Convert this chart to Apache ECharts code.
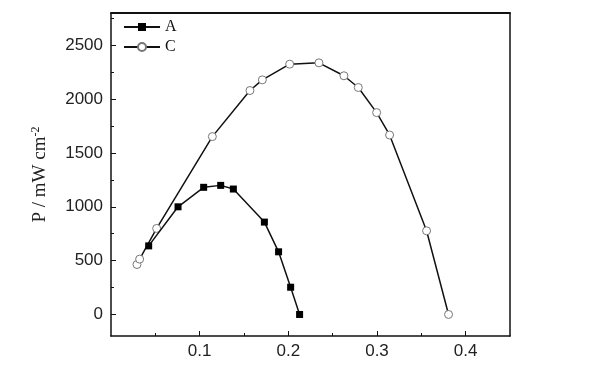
<!DOCTYPE html>
<html><head><meta charset="utf-8">
<script src="https://cdn.jsdelivr.net/npm/echarts@6/dist/echarts.min.js"></script>
<style>html,body{margin:0;padding:0;background:#fff}#c{width:600px;height:372px}</style>
</head><body><div id="c"></div>
<script>
const xA = [0.0425, 0.0756, 0.1045, 0.1237, 0.138, 0.173, 0.189, 0.2026, 0.2127];
const yA = [637, 1000, 1181, 1199, 1165, 858, 582, 253, 0];
const xC = [0.0293, 0.0323, 0.0515, 0.1143, 0.1567, 0.1707, 0.2015, 0.2345, 0.2627, 0.2789, 0.2996, 0.3142, 0.3559, 0.3807];
const yC = [464, 514, 799, 1652, 2080, 2179, 2325, 2337, 2217, 2108, 1875, 1667, 777, 0];
const yMajor = [0, 500, 1000, 1500, 2000, 2500];
const yMinor = [250, 750, 1250, 1750, 2250, 2750];
const xMajor = [0.1, 0.2, 0.3, 0.4];
const xMinor = [0.05, 0.15, 0.25, 0.35];

const chart = echarts.init(document.getElementById('c'));
const lbl = {fontFamily: 'Liberation Sans, Arial, sans-serif', fontSize: 17, color: '#222', formatter: v => String(v)};
chart.setOption({
  animation: false,
  grid: {left: 111, right: 90, top: 13, bottom: 36, show: false},
  legend: {
    orient: 'vertical', left: 118, top: 17, itemGap: 4, itemWidth: 36, itemHeight: 10, padding: [2, 5],
    textStyle: {fontFamily: 'Liberation Serif, Times New Roman, serif', fontSize: 16, color: '#111'},
    data: ['A', 'C']
  },
  xAxis: [
    {type: 'value', min: 0, max: 0.45, position: 'bottom',
     axisLine: {onZero: false, lineStyle: {color: '#111', width: 1.5}},
     axisTick: {inside: true, length: 5, customValues: xMajor, lineStyle: {color: '#111'}},
     axisLabel: {customValues: xMajor, margin: 7, ...lbl},
     splitLine: {show: false}},
    {type: 'value', min: 0, max: 0.45, position: 'bottom',
     axisLine: {show: false, onZero: false},
     axisTick: {inside: true, length: 3, customValues: xMinor, lineStyle: {color: '#111'}},
     axisLabel: {show: false}, splitLine: {show: false}},
    {type: 'value', min: 0, max: 0.45, position: 'top',
     axisLine: {onZero: false, lineStyle: {color: '#111', width: 1.8}},
     axisTick: {show: false}, axisLabel: {show: false}, splitLine: {show: false}}
  ],
  yAxis: [
    {type: 'value', min: -200, max: 2800, position: 'left',
     axisLine: {show: true, onZero: false, lineStyle: {color: '#111', width: 1.5}},
     axisTick: {show: true, inside: true, length: 5, customValues: yMajor, lineStyle: {color: '#111'}},
     axisLabel: {customValues: yMajor, margin: 8, ...lbl},
     splitLine: {show: false},
     name: '{a|P / mW cm}{s|-2}', nameLocation: 'middle', nameGap: 60, nameRotate: 90,
     nameTextStyle: {rich: {
       a: {fontFamily: 'Liberation Serif, Times New Roman, serif', fontSize: 19, color: '#222'},
       s: {fontFamily: 'Liberation Serif, Times New Roman, serif', fontSize: 12, color: '#222', verticalAlign: 'top', padding: [0, 0, 9, 0]}
     }}},
    {type: 'value', min: -200, max: 2800, position: 'left',
     axisLine: {show: false, onZero: false},
     axisTick: {show: true, inside: true, length: 3, customValues: yMinor, lineStyle: {color: '#111'}},
     axisLabel: {show: false}, splitLine: {show: false}},
    {type: 'value', min: -200, max: 2800, position: 'right',
     axisLine: {show: true, onZero: false, lineStyle: {color: '#111', width: 1.5}},
     axisTick: {show: false}, axisLabel: {show: false}, splitLine: {show: false}}
  ],
  series: [
    {name: 'A', type: 'line', data: xA.map((x, i) => [x, yA[i]]), z: 3,
     symbol: 'rect', symbolSize: 7, lineStyle: {color: '#111', width: 1.5},
     itemStyle: {color: '#000', borderColor: '#000', borderWidth: 0}},
    {name: 'C', type: 'line', data: xC.map((x, i) => [x, yC[i]]), z: 2,
     symbol: 'circle', symbolSize: 8, lineStyle: {color: '#111', width: 1.5},
     itemStyle: {color: '#fff', borderColor: '#777', borderWidth: 1}}
  ]
});
</script></body></html>
